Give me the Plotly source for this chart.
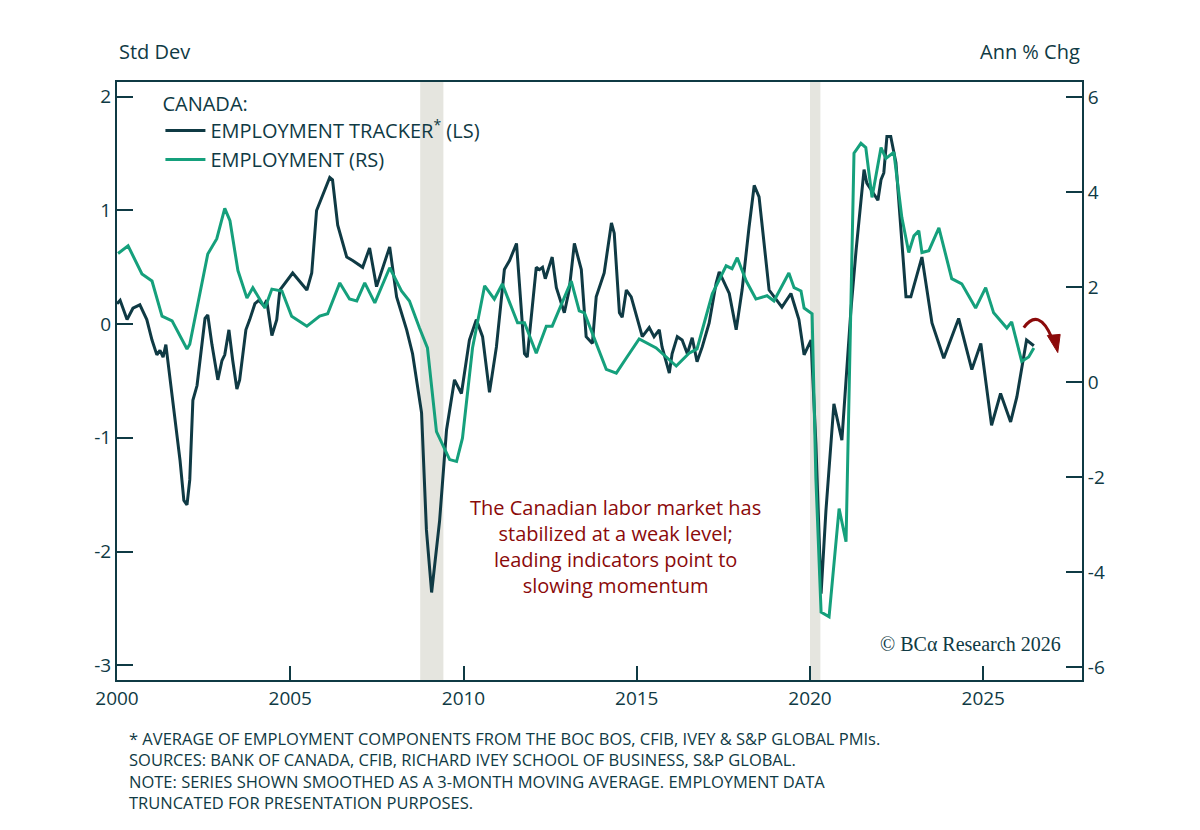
import plotly.graph_objects as go

tracker_dates = [2000.00,2000.09,2000.29,2000.46,2000.66,2000.86,2001.01,2001.15,2001.24,2001.33,2001.41,2001.53,2001.67,2001.82,2001.93,2002.02,2002.10,2002.19,2002.31,2002.39,2002.54,2002.62,2002.74,2002.91,2003.03,2003.11,2003.23,2003.34,2003.46,2003.54,2003.72,2003.83,2003.98,2004.09,2004.24,2004.32,2004.47,2004.61,2004.70,2005.07,2005.48,2005.62,2005.76,2006.14,2006.22,2006.37,2006.63,2006.80,2007.09,2007.29,2007.49,2007.87,2008.07,2008.36,2008.53,2008.79,2008.93,2009.08,2009.31,2009.51,2009.74,2009.94,2010.17,2010.37,2010.55,2010.75,2010.95,2011.18,2011.33,2011.53,2011.76,2011.84,2012.10,2012.19,2012.28,2012.36,2012.48,2012.56,2012.68,2012.91,2013.05,2013.20,2013.40,2013.54,2013.72,2013.83,2014.06,2014.27,2014.35,2014.50,2014.58,2014.70,2014.84,2014.99,2015.16,2015.36,2015.50,2015.65,2015.73,2015.94,2016.02,2016.17,2016.31,2016.46,2016.60,2016.74,2016.89,2017.09,2017.29,2017.38,2017.67,2017.87,2018.04,2018.24,2018.39,2018.53,2018.82,2019.19,2019.45,2019.68,2019.83,2020.03,2020.17,2020.32,2020.46,2020.69,2020.92,2021.18,2021.33,2021.56,2021.64,2021.96,2022.05,2022.13,2022.22,2022.33,2022.48,2022.77,2022.91,2023.23,2023.52,2023.86,2024.29,2024.67,2024.93,2025.24,2025.50,2025.79,2025.97,2026.25,2026.46]
tracker_vals = [0.18,0.21,0.04,0.14,0.17,0.04,-0.14,-0.27,-0.23,-0.29,-0.18,-0.49,-0.85,-1.20,-1.55,-1.59,-1.37,-0.67,-0.54,-0.32,0.05,0.08,-0.18,-0.49,-0.32,-0.27,-0.05,-0.32,-0.57,-0.49,-0.05,0.04,0.18,0.21,0.16,0.21,-0.10,0.04,0.30,0.45,0.30,0.45,1.00,1.29,1.27,0.87,0.59,0.56,0.50,0.67,0.33,0.68,0.24,-0.05,-0.26,-0.78,-1.81,-2.36,-1.73,-0.93,-0.49,-0.61,-0.14,0.04,-0.11,-0.60,-0.20,0.48,0.56,0.71,-0.26,-0.29,0.50,0.48,0.50,0.40,0.52,0.59,0.32,0.10,0.30,0.71,0.48,-0.11,-0.17,0.24,0.45,0.89,0.80,0.10,0.06,0.30,0.24,0.08,-0.11,-0.03,-0.11,-0.05,-0.20,-0.43,-0.26,-0.11,-0.14,-0.26,-0.12,-0.33,-0.20,0.01,0.36,0.46,0.27,-0.05,0.30,0.85,1.22,1.12,0.30,0.15,0.27,0.04,-0.27,-0.14,-1.05,-2.37,-1.64,-0.70,-1.02,0.12,0.65,1.36,1.24,1.09,1.27,1.33,1.65,1.65,1.42,0.24,0.24,0.59,0.01,-0.30,0.05,-0.40,-0.17,-0.89,-0.61,-0.86,-0.64,-0.14,-0.19]

emp_dates = [2000.03,2000.32,2000.72,2001.01,2001.30,2001.59,2002.02,2002.10,2002.62,2002.88,2003.11,2003.26,2003.49,2003.75,2003.92,2004.27,2004.47,2004.76,2005.04,2005.48,2005.85,2006.08,2006.43,2006.71,2006.92,2007.15,2007.44,2007.87,2008.21,2008.44,2008.73,2008.96,2009.22,2009.60,2009.80,2009.97,2010.26,2010.61,2010.89,2011.12,2011.56,2011.76,2012.10,2012.39,2012.56,2013.11,2013.34,2013.49,2014.12,2014.41,2014.70,2015.07,2015.56,2016.14,2016.51,2016.74,2017.18,2017.58,2017.75,2017.90,2018.16,2018.44,2018.76,2018.96,2019.39,2019.54,2019.74,2019.83,2020.06,2020.17,2020.32,2020.55,2020.84,2021.04,2021.27,2021.47,2021.61,2021.79,2022.05,2022.19,2022.42,2022.65,2022.85,2023.00,2023.14,2023.23,2023.43,2023.72,2024.09,2024.38,2024.78,2025.07,2025.30,2025.68,2025.82,2026.11,2026.31,2026.46]
emp_vals = [2.71,2.87,2.28,2.13,1.39,1.29,0.70,0.80,2.70,3.02,3.66,3.40,2.35,1.77,1.99,1.56,1.96,1.92,1.39,1.18,1.39,1.44,2.09,1.75,1.71,2.09,1.67,2.41,1.92,1.71,1.14,0.72,-1.04,-1.63,-1.67,-1.18,0.72,2.03,1.75,2.07,1.25,1.25,0.61,1.18,1.18,2.13,1.50,1.46,0.27,0.19,0.51,0.91,0.72,0.34,0.61,0.70,1.86,2.45,2.39,2.62,2.13,1.75,1.82,1.71,2.30,1.99,1.92,1.56,1.44,-2.03,-4.84,-4.94,-2.66,-3.36,4.82,5.03,4.94,3.89,4.94,4.71,4.84,3.47,2.73,3.08,3.19,2.73,2.77,3.25,2.18,2.07,1.56,1.99,1.46,1.14,1.27,0.44,0.53,0.72]

recessions = [(2008.75, 2009.42), (2020.0, 2020.3)]
x_ticks = [2000, 2005, 2010, 2015, 2020, 2025]
left_ticks = [2, 1, 0, -1, -2, -3]
right_ticks = [6, 4, 2, 0, -2, -4, -6]

DARK = "#0f3a44"
GREEN = "#15a07c"
RED = "#8b0a0a"
FONT = "Open Sans"

fig = go.Figure()
fig.add_trace(go.Scatter(x=tracker_dates, y=tracker_vals, mode="lines", name="EMPLOYMENT TRACKER<sup>*</sup> (LS)",
                         line=dict(color=DARK, width=3)))
fig.add_trace(go.Scatter(x=emp_dates, y=emp_vals, mode="lines", name="EMPLOYMENT (RS)", yaxis="y2",
                         line=dict(color=GREEN, width=3)))

for a, b in recessions:
    fig.add_shape(type="rect", xref="x", yref="paper", x0=a, x1=b, y0=0, y1=1,
                  fillcolor="#e5e5df", line_width=0, layer="below")

# curved arrow
fig.add_shape(type="path", xref="x", yref="y", path="M 2026.17,-0.03 Q 2026.6,0.15 2026.98,-0.12",
              line=dict(color=RED, width=3))
fig.add_shape(type="path", xref="x", yref="y", path="M 2026.85,-0.10 L 2027.22,-0.09 L 2027.15,-0.25 Z",
              fillcolor=RED, line=dict(color=RED, width=1))

def lab(v):
    return str(v).replace("\u2212", "-")

fig.update_layout(
    width=1184, height=814, paper_bgcolor="white", plot_bgcolor="white",
    margin=dict(l=109, r=110, t=74, b=142),
    font=dict(family=FONT, color=DARK, size=18),
    showlegend=True,
    legend=dict(x=0.045, y=0.995, xanchor="left", yanchor="top", bgcolor="rgba(0,0,0,0)",
                title=dict(text="CANADA:", font=dict(size=20)), font=dict(size=20),
                tracegroupgap=0, itemwidth=40),
    xaxis=dict(range=[2000, 2027.85], tickvals=x_ticks, ticks="inside", ticklen=14, tickwidth=2,
               tickcolor=DARK, showline=True, linecolor=DARK, linewidth=2, showgrid=False,
               zeroline=False, tickfont=dict(size=19), mirror=True),
    yaxis=dict(range=[-3.13, 2.13], tickvals=left_ticks, ticktext=[lab(v) for v in left_ticks],
               ticks="inside", ticklen=16, tickwidth=2,
               tickcolor=DARK, showline=True, linecolor=DARK, linewidth=2, showgrid=False,
               zeroline=False, tickfont=dict(size=19)),
    yaxis2=dict(range=[-6.27, 6.32], tickvals=right_ticks, ticktext=[lab(v) for v in right_ticks],
                overlaying="y", side="right",
                ticks="inside", ticklen=16, tickwidth=2, tickcolor=DARK, showline=True,
                linecolor=DARK, linewidth=2, showgrid=False, zeroline=False, tickfont=dict(size=19)),
    annotations=[
        dict(text="Std Dev", xref="paper", yref="paper", x=0, y=1.025, xanchor="left", yanchor="bottom",
             showarrow=False, font=dict(size=20)),
        dict(text="Ann % Chg", xref="paper", yref="paper", x=1, y=1.025, xanchor="right", yanchor="bottom",
             showarrow=False, font=dict(size=20)),
        dict(text="The Canadian labor market has<br>stabilized at a weak level;<br>leading indicators point to<br>slowing momentum",
             xref="x", yref="y", x=2014.4, y=-1.48, xanchor="center", yanchor="top", showarrow=False,
             font=dict(size=20, color=RED), align="center"),
        dict(text="© BCα Research 2026", xref="paper", yref="paper", x=0.98, y=0.06, xanchor="right",
             yanchor="middle", showarrow=False, font=dict(size=20, family="Liberation Serif", color=DARK)),
        dict(text="* AVERAGE OF EMPLOYMENT COMPONENTS FROM THE BOC BOS, CFIB, IVEY & S&P GLOBAL PMIs.<br>"
                  "SOURCES: BANK OF CANADA, CFIB, RICHARD IVEY SCHOOL OF BUSINESS, S&P GLOBAL.<br>"
                  "NOTE: SERIES SHOWN SMOOTHED AS A 3-MONTH MOVING AVERAGE. EMPLOYMENT DATA<br>"
                  "TRUNCATED FOR PRESENTATION PURPOSES.",
             xref="paper", yref="paper", x=0.01, y=-0.075, xanchor="left", yanchor="top", align="left",
             showarrow=False, font=dict(size=16.5, color=DARK)),
    ],
)

fig.write_html("out.html")
